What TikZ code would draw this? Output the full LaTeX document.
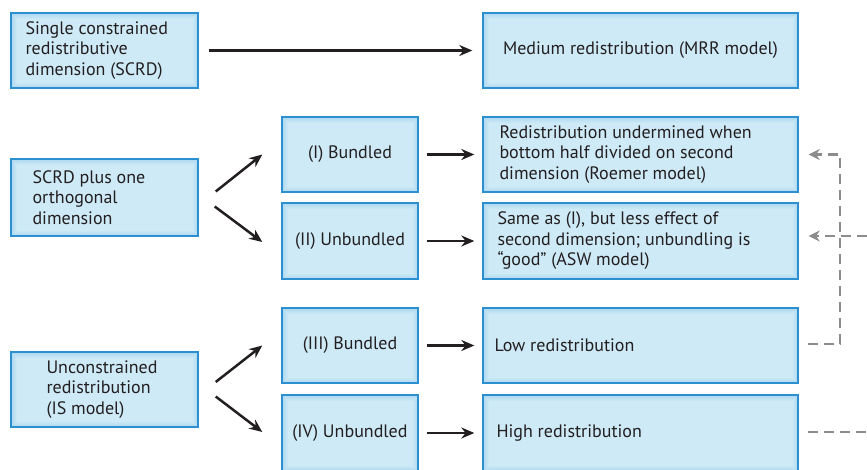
\documentclass[tikz,border=0pt]{standalone}
\usepackage{fontspec}
\setmainfont{PT Sans}
\usetikzlibrary{arrows.meta}
\definecolor{boxfill}{HTML}{CEEAF7}
\definecolor{boxline}{HTML}{2B8FD0}
\definecolor{glow}{HTML}{9ACFEC}
\definecolor{txt}{HTML}{231F20}
\definecolor{dashc}{HTML}{8C8C8C}
\begin{document}
\begin{tikzpicture}[x=1pt,y=-1pt,
  box/.style={draw=boxline, line width=1.4pt, fill=boxfill, rectangle, inner sep=0pt,
    minimum height=75pt, text=txt, font=\fontsize{18}{20.5}\selectfont, align=center,
    path picture={\foreach \i/\o in {1/0.55,2/0.45,3/0.32,4/0.2,5/0.1}{
      \draw[glow, opacity=\o, line width=1pt]
        ([shift={(\i pt,-\i pt)}]path picture bounding box.north west) rectangle
        ([shift={(-\i pt,\i pt)}]path picture bounding box.south east);}}},
  lbl/.style={font=\fontsize{18}{20.5}\selectfont, text=txt, align=left, inner sep=0pt, anchor=west},
  arr/.style={-{Stealth[length=13pt,width=11pt]}, line width=2.5pt, draw=txt},
  dashline/.style={draw=dashc, line width=2.8pt, dash pattern=on 10pt off 6pt},
  garr/.style={-{Stealth[length=11pt,width=11pt]}},
]
\useasboundingbox (0,0) rectangle (867,469);

% left column
\node[box, minimum width=187pt] (scrd) at (104.5,50.5) {};
\node[lbl] (scrdt) at ([xshift=15pt]scrd.west) {Single constrained\\redistributive\\dimension (SCRD)};
\node[box, minimum width=187pt, minimum height=77pt] (plus) at (104.5,197.5) {};
\node[lbl] (plust) at ([xshift=22pt]plus.west) {SCRD plus one\\orthogonal\\dimension};
\node[box, minimum width=187pt] (unc) at (104.5,389.5) {};
\node[lbl] (unct) at ([xshift=36pt]unc.west) {Unconstrained\\redistribution\\(IS model)};

% middle column
\node[box, minimum width=136pt] (b1) at (350,154.5) {(I) Bundled};
\node[box, minimum width=136pt, minimum height=76pt] (b2) at (350,241) {(II) Unbundled};
\node[box, minimum width=136pt] (b3) at (350,345.5) {(III) Bundled};
\node[box, minimum width=136pt, minimum height=76pt] (b4) at (350,433) {(IV) Unbundled};

% right column
\node[box, minimum width=315pt] (mrr) at (640.5,50.5) {Medium redistribution (MRR model)};
\node[box, minimum width=315pt] (roe) at (640.5,154.5) {};
\node[lbl] (roet) at ([xshift=17pt]roe.west) {Redistribution undermined when\\bottom half divided on second\\dimension (Roemer model)};
\node[box, minimum width=315pt, minimum height=76pt] (asw) at (640.5,241) {};
\node[lbl] (aswt) at ([xshift=15pt]asw.west) {Same as (I), but less effect of\\second dimension; unbundling is\\“good” (ASW model)};
\node[box, minimum width=315pt] (low) at (640.5,345.5) {};
\node[lbl] (lowt) at ([xshift=12pt]low.west) {Low redistribution};
\node[box, minimum width=315pt, minimum height=76pt] (high) at (640.5,433) {};
\node[lbl] (hight) at ([xshift=14pt]high.west) {High redistribution};

% solid arrows
\draw[arr] ([xshift=10pt]scrd.east) -- ([xshift=-10pt]mrr.west);
\draw[arr] ([xshift=8pt]b1.east) -- ([xshift=-8pt]roe.west);
\draw[arr] ([xshift=8pt]b2.east) -- ([xshift=-8pt]asw.west);
\draw[arr] ([xshift=8pt]b3.east) -- ([xshift=-8pt]low.west);
\draw[arr] ([xshift=8pt]b4.east) -- ([xshift=-8pt]high.west);
\draw[arr] ([shift={(17,-6)}]plus.east) -- ([shift={(-19,0)}]b1.west);
\draw[arr] ([shift={(16,9)}]plus.east) -- ([shift={(-19,1)}]b2.west);
\draw[arr] ([shift={(17,-7.5)}]unc.east) -- ([shift={(-19,0)}]b3.west);
\draw[arr] ([shift={(17,7)}]unc.east) -- ([shift={(-19,-1)}]b4.west);

% dashed connectors
\coordinate (corner) at (840,344);
\coordinate (rin) at (867,236);
\coordinate (rout) at (867,432);
\draw[dashline, garr] ([shift={(9,-1.5)}]low.east) -- (corner) -- (corner |- roe.east) -- ([xshift=10pt]roe.east);
\draw[dashline, garr] (rin) -- ([xshift=10pt]asw.east |- rin);
\draw[dashline] ([shift={(9,-1)}]high.east) -- (rout);
\end{tikzpicture}
\end{document}
